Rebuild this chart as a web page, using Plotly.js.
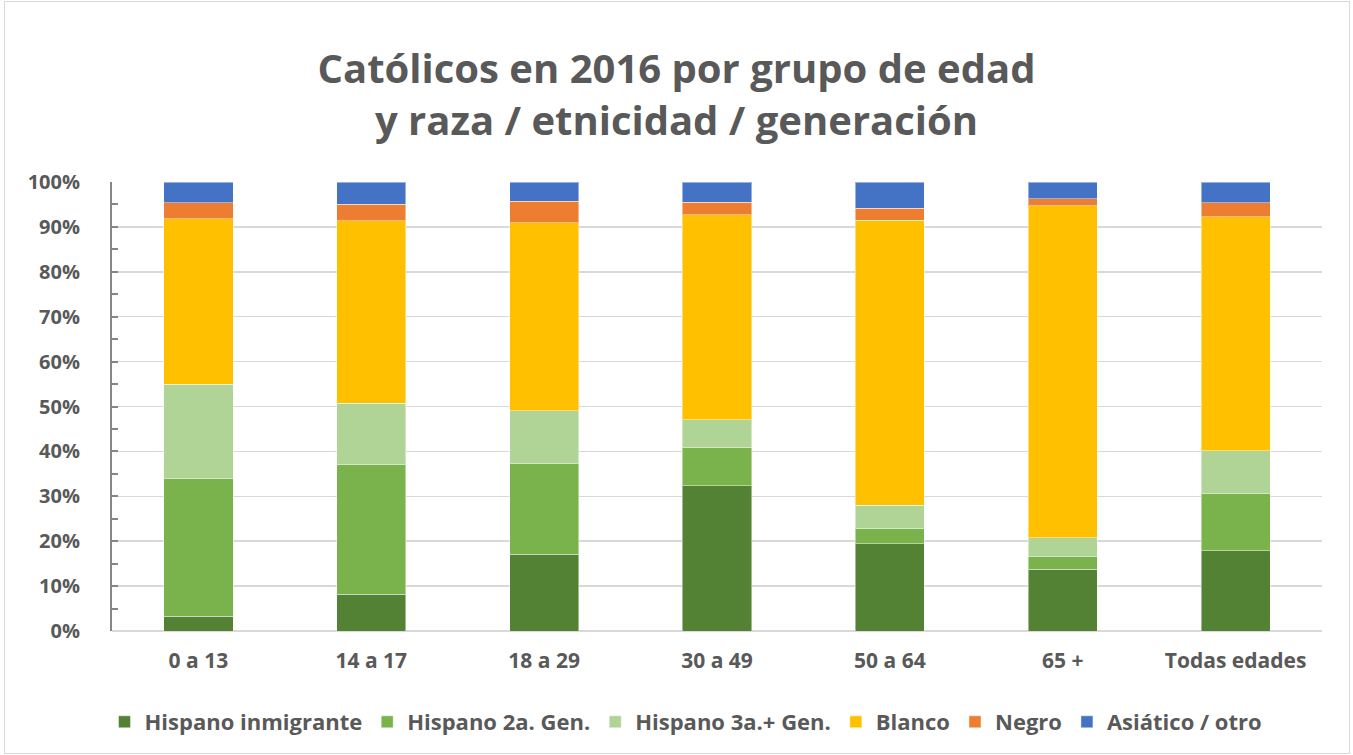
<!DOCTYPE html>
<html>
<head>
<meta charset="utf-8">
<script src="https://cdn.plot.ly/plotly-3.0.1.min.js"></script>
<style>
html,body{margin:0;padding:0;background:#fff;}
#chart{width:1353px;height:755px;}
#frame{position:absolute;left:4px;top:1px;width:1344px;height:751px;border:1px solid #d9d9d9;pointer-events:none;}
</style>
</head>
<body>
<div id="chart"></div>
<div id="frame"></div>
<script>
const categories = ["0 a 13","14 a 17","18 a 29","30 a 49","50 a 64","65 +","Todas edades"];
const hispanoInmigrante = [3.3, 8.2, 17.1, 32.3, 19.4, 13.7, 17.9];
const hispano2aGen      = [30.6, 28.8, 20.1, 8.5, 3.4, 2.8, 12.7];
const hispano3aGen      = [21.1, 13.7, 11.9, 6.2, 5.2, 4.3, 9.6];
const blanco            = [36.8, 40.7, 41.8, 45.7, 63.5, 73.9, 52.1];
const negro             = [3.6, 3.7, 4.8, 2.8, 2.7, 1.6, 3.1];
const asiaticoOtro      = [4.6, 4.9, 4.3, 4.5, 5.8, 3.7, 4.6];
const seriesNames = ["Hispano inmigrante","Hispano 2a. Gen.","Hispano 3a.+ Gen.","Blanco","Negro","Asiático / otro"];
const seriesValues = [hispanoInmigrante, hispano2aGen, hispano3aGen, blanco, negro, asiaticoOtro];
const colors = ["#548235","#7AB34C","#B0D396","#FFC000","#ED7D31","#4472C4"];

const FONT = "'Open Sans', Lato, sans-serif";
const traces = seriesNames.map((n,i)=>({
  type:'bar', name:n, x:categories, y:seriesValues[i].map(v=>v/100),
  marker:{color:colors[i], line:{color:'rgba(255,255,255,0.45)', width:1}},
  hoverinfo:'name+y'
}));

const layout = {
  width:1353, height:755,
  paper_bgcolor:'#fff', plot_bgcolor:'#fff',
  barmode:'stack', bargap:0.6,
  margin:{l:112, r:31, t:182, b:124, autoexpand:false},
  font:{family:FONT, color:'#595959'},
  title:{
    text:'<b>Católicos en 2016 por grupo de edad<br>y raza / etnicidad / generación</b>',
    font:{family:FONT, size:40, color:'#595959'},
    x:0.5, xanchor:'center', xref:'container',
    y:1-83/755, yanchor:'middle', yref:'container'
  },
  xaxis:{
    type:'category', showgrid:false, zeroline:false,
    showline:false, ticks:'', tickangle:0,
    tickfont:{family:FONT, size:21, color:'#595959', weight:'bold'},
    ticklabelstandoff:15
  },
  yaxis:{
    range:[0,1], tickformat:'.0%', dtick:0.1,
    showgrid:true, gridcolor:'#d9d9d9', gridwidth:1.5,
    zeroline:true, zerolinecolor:'#d9d9d9', zerolinewidth:1.5,
    showline:true, linecolor:'#868686', linewidth:2,
    ticks:'inside', ticklen:6, tickcolor:'#868686', tickwidth:2,
    minor:{dtick:0.05, ticks:'inside', ticklen:6, tickcolor:'#868686', tickwidth:2, showgrid:false},
    tickfont:{family:FONT, size:20, color:'#595959', weight:'bold'},
    ticklabelstandoff:26
  },
  legend:{
    orientation:'h', xref:'paper', x:(686-112)/1210, xanchor:'center',
    y:-91/449, yanchor:'middle',
    font:{family:FONT, size:22, color:'#595959', weight:'bold'},
    traceorder:'normal', itemwidth:30
  },
  showlegend:true
};

Plotly.newPlot('chart', traces, layout, {displayModeBar:false, staticPlot:true});
</script>
</body>
</html>
